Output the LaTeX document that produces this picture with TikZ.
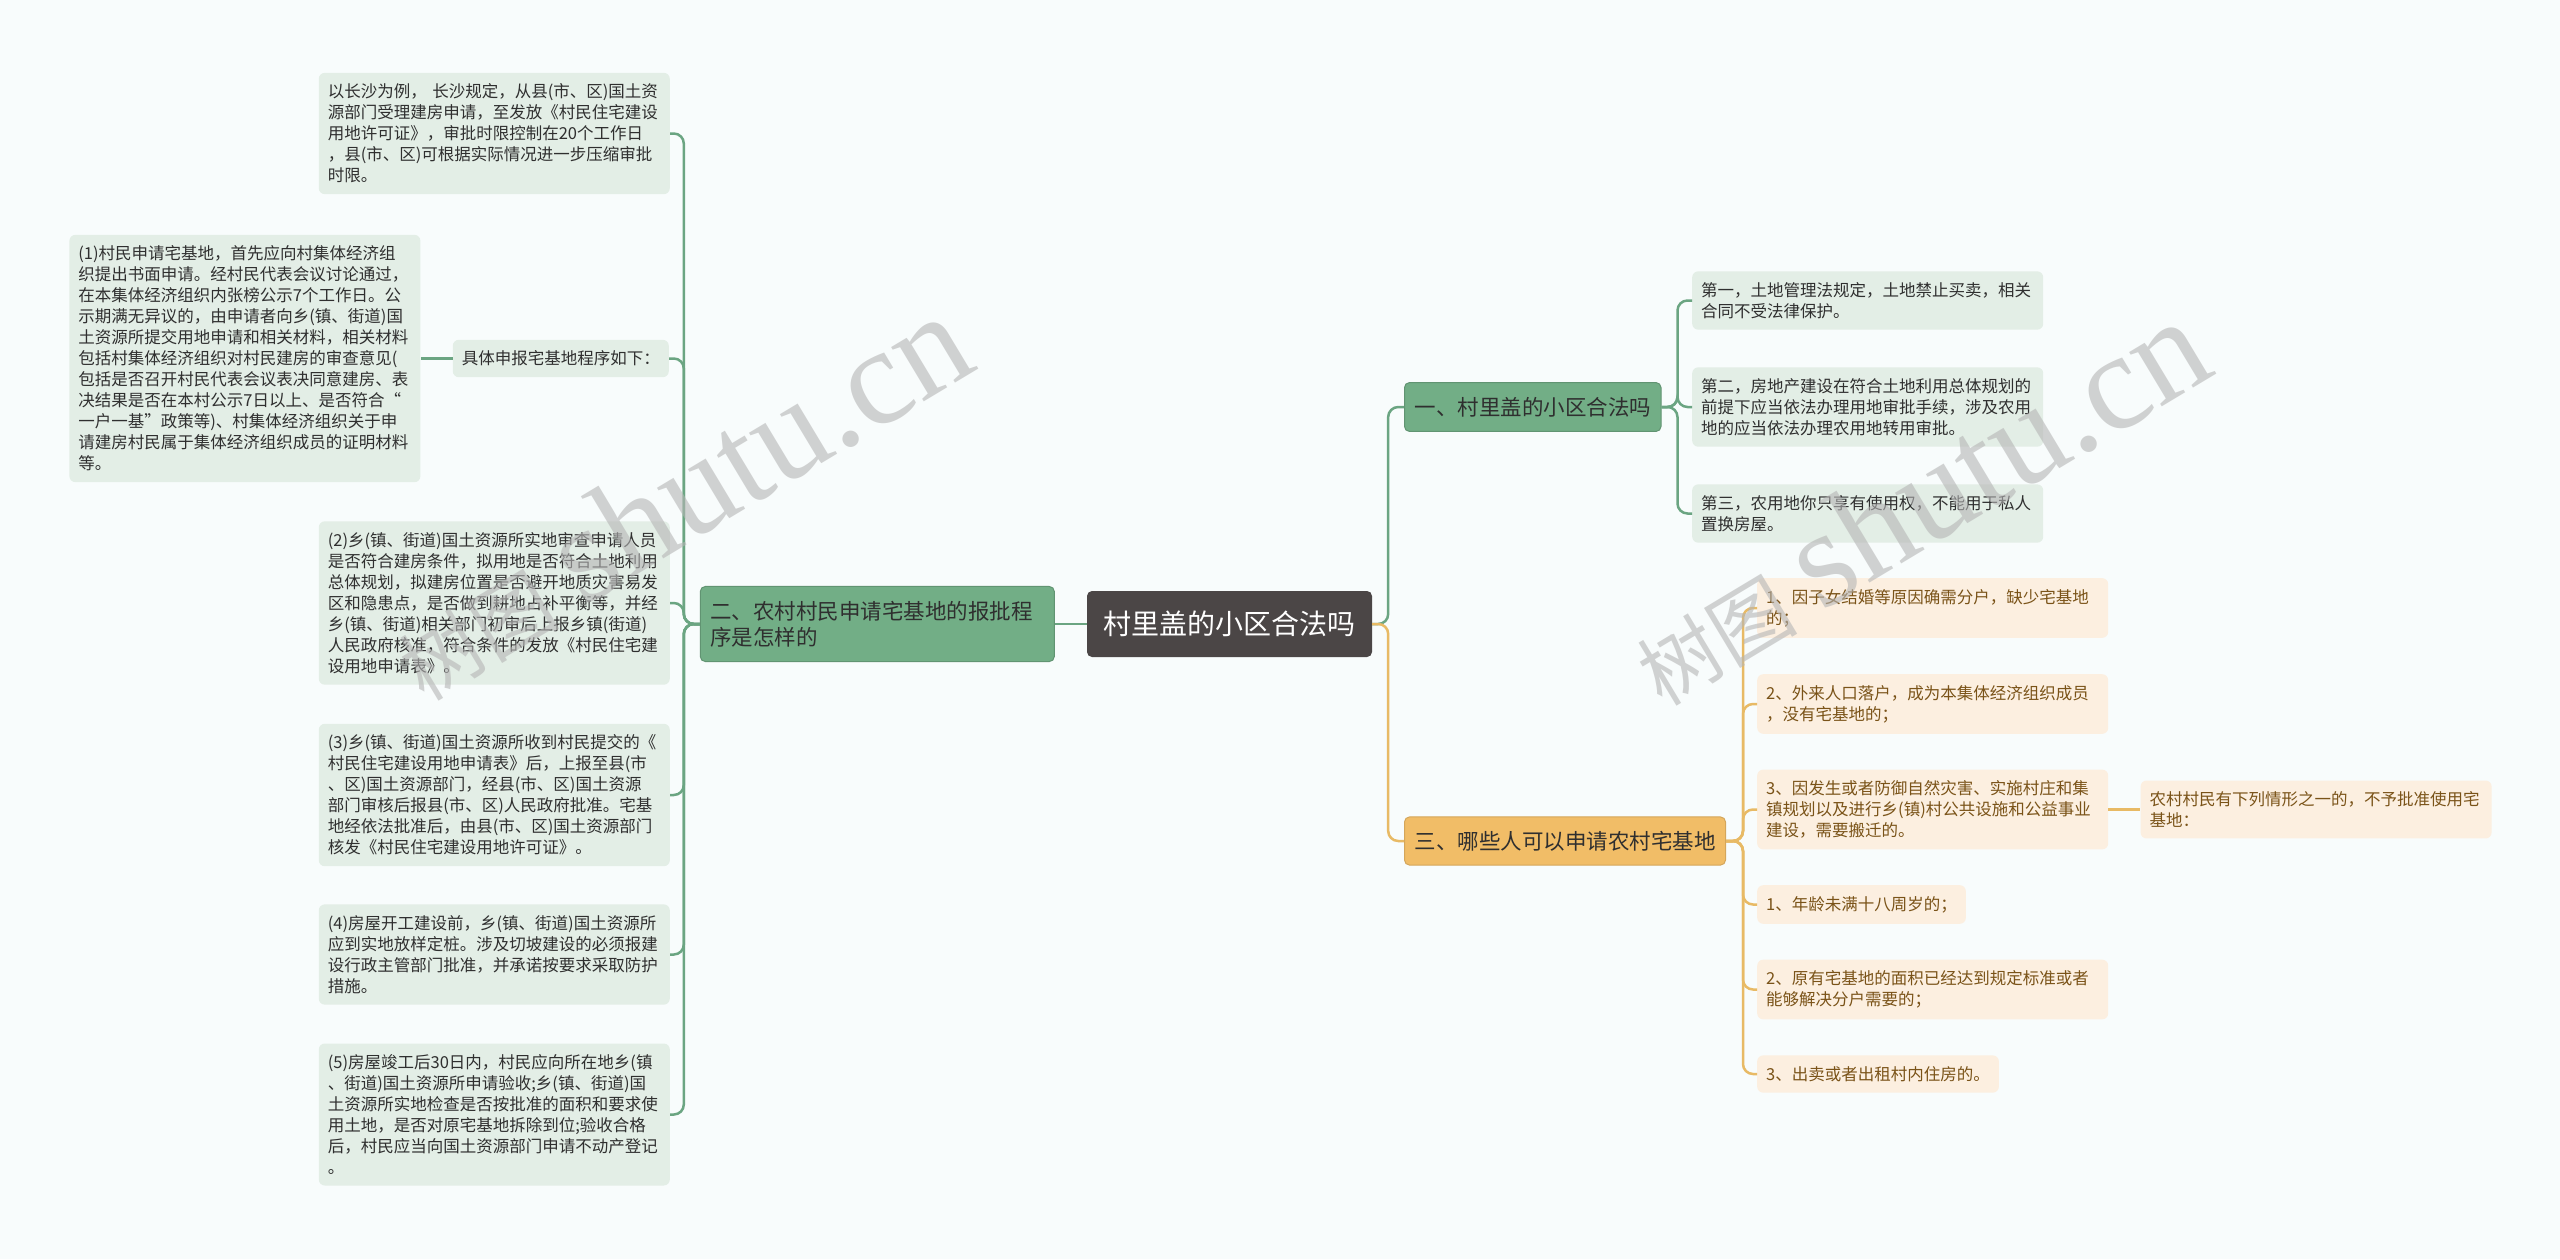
\documentclass[tikz,border=0pt]{standalone}
\usepackage{fontspec}
\setmainfont{Noto Sans CJK SC}
\newfontfamily\wmserif{Liberation Serif}
\usepackage{tikz}
\usetikzlibrary{positioning}
\definecolor{mmbg}{HTML}{F8FCFC}
\definecolor{mmroot}{HTML}{4B4646}
\definecolor{mmgreen}{HTML}{72AE86}
\definecolor{mmgreenleaf}{HTML}{E3EEE6}
\definecolor{mmgreenline}{HTML}{6BA582}
\definecolor{mmorange}{HTML}{F1BD67}
\definecolor{mmorangeleaf}{HTML}{FCEFE0}
\definecolor{mmorangeline}{HTML}{E8BA65}
\definecolor{mmtext}{HTML}{2F2F2F}
\definecolor{mmbrown}{HTML}{7A5318}
\definecolor{mmwm}{HTML}{B5B5B5}

\begin{document}
\begin{tikzpicture}[
  x=1pt, y=-1pt,
  root/.style={fill=mmroot, rounded corners=5pt, text=white, font=\fontsize{28}{34}\selectfont, minimum width=285pt, minimum height=66pt},
  branchg/.style={fill=mmgreen, draw=mmgreen!85!black, line width=1pt, rounded corners=5pt, text=mmtext, font=\fontsize{21.5}{26}\selectfont, inner xsep=10pt, inner ysep=14.5pt, align=left},
  brancho/.style={fill=mmorange, draw=mmorange!88!black, line width=1pt, rounded corners=5pt, text=mmtext, font=\fontsize{21.5}{26}\selectfont, inner xsep=10pt, inner ysep=14pt},
  leafg/.style={fill=mmgreenleaf, rounded corners=6pt, text=mmtext, font=\fontsize{16.5}{21}\selectfont, inner xsep=9pt, inner ysep=11pt, align=left},
  leafo/.style={fill=mmorangeleaf, rounded corners=6pt, text=mmbrown, font=\fontsize{16.5}{21}\selectfont, inner xsep=9pt, inner ysep=11pt, align=left},
  widebox/.style={text width=333pt},
  linkg/.style={draw=mmgreenline, line width=2.5pt, rounded corners=10pt},
  linko/.style={draw=mmorangeline, line width=2.5pt, rounded corners=10pt},
  wmark/.style={rotate=31, text=mmwm, opacity=0.6}
]
\useasboundingbox (0,0) rectangle (2560,1259);
\fill[mmbg] (0,0) rectangle (2560,1259);

% centre and main branches
\node[root] (root) at (1229.5,624) {村里盖的小区合法吗};
\node[branchg, text width=334pt, left=32pt of root] (b2) {二、农村村民申请宅基地的报批程\\序是怎样的};
\node[branchg, anchor=west] (b1) at (1404,407) {一、村里盖的小区合法吗};
\node[brancho, anchor=west] (b3) at (1404,841) {三、哪些人可以申请农村宅基地};

% left side
\node[leafg, widebox, anchor=east] (l0) at (670,133.5) {以长沙为例， 长沙规定，从县(市、区)国土资\\源部门受理建房申请，至发放《村民住宅建设\\用地许可证》，审批时限控制在20个工作日\\，县(市、区)可根据实际情况进一步压缩审批\\时限。};
\node[leafg, anchor=east] (j) at (669,358.5) {具体申报宅基地程序如下：};
\node[leafg, widebox, left=32pt of j] (l1) {(1)村民申请宅基地，首先应向村集体经济组\\织提出书面申请。经村民代表会议讨论通过，\\在本集体经济组织内张榜公示7个工作日。公\\示期满无异议的，由申请者向乡(镇、街道)国\\土资源所提交用地申请和相关材料，相关材料\\包括村集体经济组织对村民建房的审查意见(\\包括是否召开村民代表会议表决同意建房、表\\决结果是否在本村公示7日以上、是否符合“\\一户一基”政策等)、村集体经济组织关于申\\请建房村民属于集体经济组织成员的证明材料\\等。};
\node[leafg, widebox, anchor=east] (l2) at (670,603) {(2)乡(镇、街道)国土资源所实地审查申请人员\\是否符合建房条件，拟用地是否符合土地利用\\总体规划，拟建房位置是否避开地质灾害易发\\区和隐患点，是否做到耕地占补平衡等，并经\\乡(镇、街道)相关部门初审后上报乡镇(街道)\\人民政府核准，符合条件的发放《村民住宅建\\设用地申请表》。};
\node[leafg, widebox, anchor=east] (l3) at (670,795) {(3)乡(镇、街道)国土资源所收到村民提交的《\\村民住宅建设用地申请表》后，上报至县(市\\、区)国土资源部门，经县(市、区)国土资源\\部门审核后报县(市、区)人民政府批准。宅基\\地经依法批准后，由县(市、区)国土资源部门\\核发《村民住宅建设用地许可证》。};
\node[leafg, widebox, anchor=east] (l4) at (670,954.5) {(4)房屋开工建设前，乡(镇、街道)国土资源所\\应到实地放样定桩。涉及切坡建设的必须报建\\设行政主管部门批准，并承诺按要求采取防护\\措施。};
\node[leafg, widebox, anchor=east] (l5) at (670,1114.5) {(5)房屋竣工后30日内，村民应向所在地乡(镇\\、街道)国土资源所申请验收;乡(镇、街道)国\\土资源所实地检查是否按批准的面积和要求使\\用土地，是否对原宅基地拆除到位;验收合格\\后，村民应当向国土资源部门申请不动产登记\\。};

% right side, green
\node[leafg, widebox, anchor=west] (g1) at (1692,300.5) {第一，土地管理法规定，土地禁止买卖，相关\\合同不受法律保护。};
\node[leafg, widebox, anchor=west] (g2) at (1692,407) {第二，房地产建设在符合土地利用总体规划的\\前提下应当依法办理用地审批手续，涉及农用\\地的应当依法办理农用地转用审批。};
\node[leafg, widebox, anchor=west] (g3) at (1692,513.5) {第三，农用地你只享有使用权，不能用于私人\\置换房屋。};

% right side, orange
\node[leafo, widebox, anchor=west] (o1) at (1757,608) {1、因子女结婚等原因确需分户，缺少宅基地\\的；};
\node[leafo, widebox, anchor=west] (o2) at (1757,704) {2、外来人口落户，成为本集体经济组织成员\\，没有宅基地的；};
\node[leafo, widebox, anchor=west] (o3) at (1757,809.5) {3、因发生或者防御自然灾害、实施村庄和集\\镇规划以及进行乡(镇)村公共设施和公益事业\\建设，需要搬迁的。};
\node[leafo, anchor=west] (o4) at (1757,904.5) {1、年龄未满十八周岁的；};
\node[leafo, widebox, anchor=west] (o5) at (1757,989.5) {2、原有宅基地的面积已经达到规定标准或者\\能够解决分户需要的；};
\node[leafo, anchor=west] (o6) at (1757,1074) {3、出卖或者出租村内住房的。};
\node[leafo, widebox, right=32pt of o3] (r) {农村村民有下列情形之一的，不予批准使用宅\\基地：};

% connectors
\draw[linkg] (root.west) -- (b2.east);
\draw[linkg] (root.east) -- ++(16,0) |- (b1.west);
\draw[linko] (root.east) -- ++(16,0) |- (b3.west);
\foreach \n in {l0,j,l2,l3,l4,l5}
  \draw[linkg] (b2.west) -- ++(-16,0) |- (\n.east);
\draw[linkg] (j.west) -- (l1.east);
\foreach \n in {g1,g2,g3}
  \draw[linkg] (b1.east) -- ++(16,0) |- (\n.west);
\foreach \n in {o1,o2,o3,o4,o5,o6}
  \draw[linko] (b3.east) -- ++(17,0) |- (\n.west);
\draw[linko] (o3.east) -- (r.west);

% watermarks
\node[wmark] (wm1) at (680,497) {\fontsize{80}{80}\selectfont 树图\hspace{25pt}\wmserif\fontsize{138}{138}\selectfont shutu.cn};
\node[wmark] (wm2) at (1918,502) {\fontsize{80}{80}\selectfont 树图\hspace{25pt}\wmserif\fontsize{138}{138}\selectfont shutu.cn};
\end{tikzpicture}
\end{document}
